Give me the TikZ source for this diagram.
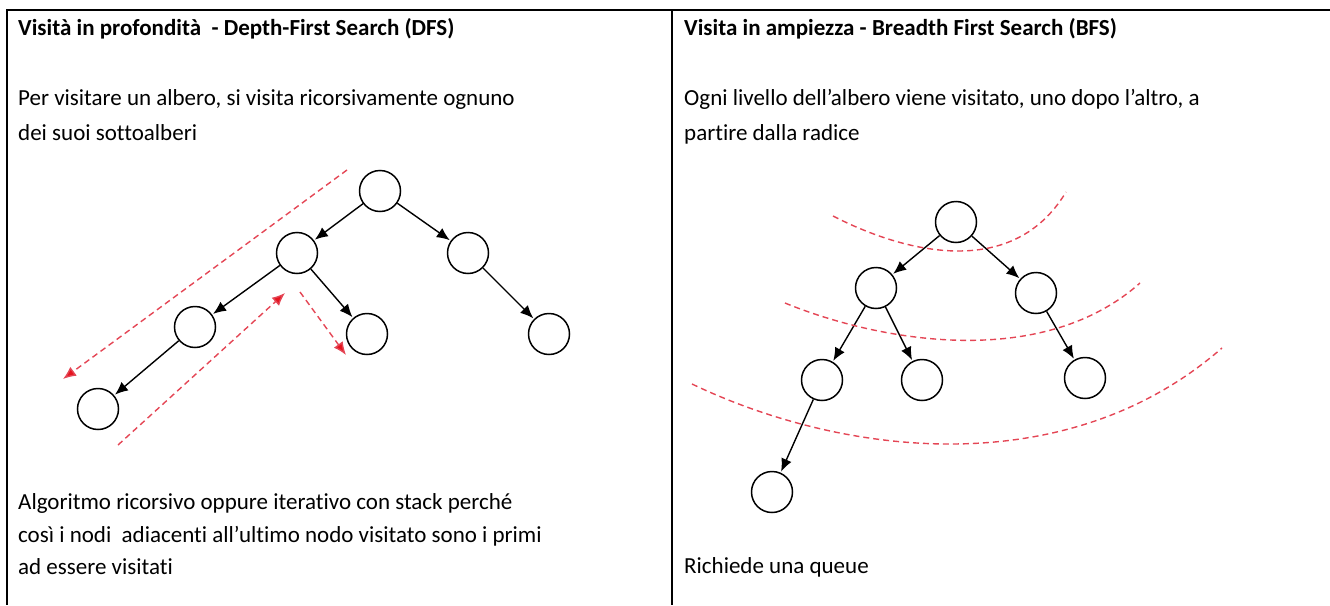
\documentclass[tikz,border=0pt]{standalone}
\usepackage{fontspec}
\setmainfont{Carlito}[Ligatures=NoCommon]
\usetikzlibrary{arrows.meta}
\begin{document}
\begin{tikzpicture}[x=1pt,y=-1pt,
  txt/.style={inner sep=0pt,anchor=base west,font=\fontsize{23}{27}\selectfont},
  ttl/.style={txt,font=\fontsize{23}{27}\selectfont\bfseries},
  nd/.style={circle,draw,line width=1.5pt,minimum size=41pt,inner sep=0pt},
  edge/.style={line width=1.4pt,-{Latex[length=13pt,width=11pt]},shorten >=1pt},
  reddash/.style={draw={rgb,255:red,228;green,70;blue,85},line width=1.4pt,dash pattern=on 6pt off 4pt},
  redarrow/.style={reddash,-{Latex[length=13pt,width=11pt,fill={rgb,255:red,230;green,20;blue,30}]}}
]
\useasboundingbox (0,0) rectangle (1330,605);
% table lines
\draw[line width=1.7pt] (6,10) -- (1330,10);
\draw[line width=1.7pt] (7,10) -- (7,605);
\draw[line width=1.7pt] (672,10) -- (672,605);

% texts left
\node[ttl] (t1) at (18,35) {Visità in profondità\ \ - Depth-First Search (DFS)};
\node[txt] (a1) at (18,105) {Per visitare un albero, si visita ricorsivamente ognuno};
\node[txt] (a2) at (18,140) {dei suoi sottoalberi};
\node[txt] (b1) at (18,509) {Algoritmo ricorsivo oppure iterativo con stack perché};
\node[txt] (b2) at (18,542) {così i nodi\ \ adiacenti all’ultimo nodo visitato sono i primi};
\node[txt] (b3) at (18,574) {ad essere visitati};
% texts right
\node[ttl] (t2) at (684,35) {Visita in ampiezza - Breadth First Search (BFS)};
\node[txt] (c1) at (684,105) {Ogni livello dell’albero viene visitato, uno dopo l’altro, a};
\node[txt] (c2) at (684,140) {partire dalla radice};
\node[txt] (d1) at (684,573) {Richiede una queue};

% DFS tree
\node[nd] (r) at (380,191) {};
\node[nd] (l) at (297,253) {};
\node[nd] (rr) at (468,253) {};
\node[nd] (ll) at (195,327) {};
\node[nd] (lr) at (367,334) {};
\node[nd] (rrr) at (549,334) {};
\node[nd] (lll) at (98,409) {};
\draw[edge] (r) -- (l);
\draw[edge] (r) -- (rr);
\draw[edge] (l) -- (ll);
\draw[edge] (l) -- (lr);
\draw[edge] (rr) -- (rrr);
\draw[edge] (ll) -- (lll);
% DFS red arrows
\coordinate (p1s) at (347,170);
\coordinate (p1e) at (63,379);
\coordinate (p2s) at (118,445);
\coordinate (p2e) at (285,293);
\coordinate (p3s) at (300,292);
\coordinate (p3e) at (346,355);
\draw[redarrow] (p1s) -- (p1e);
\draw[redarrow] (p2s) -- (p2e);
\draw[redarrow] (p3s) -- (p3e);

% BFS tree
\node[nd] (br) at (956,222) {};
\node[nd] (b1l) at (876,288) {};
\node[nd] (b1r) at (1036,293) {};
\node[nd] (b2a) at (822,380) {};
\node[nd] (b2b) at (922,380) {};
\node[nd] (b2c) at (1085,378) {};
\node[nd] (b3) at (772,492) {};
\draw[edge] (br) -- (b1l);
\draw[edge] (br) -- (b1r);
\draw[edge] (b1l) -- (b2a);
\draw[edge] (b1l) -- (b2b);
\draw[edge] (b1r) -- (b2c);
\draw[edge] (b2a) -- (b3);
% BFS level curves
\coordinate (q1s) at (833,216);
\coordinate (q1e) at (1066,192);
\coordinate (q2s) at (785,303);
\coordinate (q2e) at (1140,283);
\coordinate (q3s) at (692,384);
\coordinate (q3e) at (1222,348);
\draw[reddash] (q1s) .. controls (895,248) and (1010,285) .. (q1e);
\draw[reddash] (q2s) .. controls (875,340) and (1040,372) .. (q2e);
\draw[reddash] (q3s) .. controls (840,455) and (1065,485) .. (q3e);
\end{tikzpicture}
\end{document}
